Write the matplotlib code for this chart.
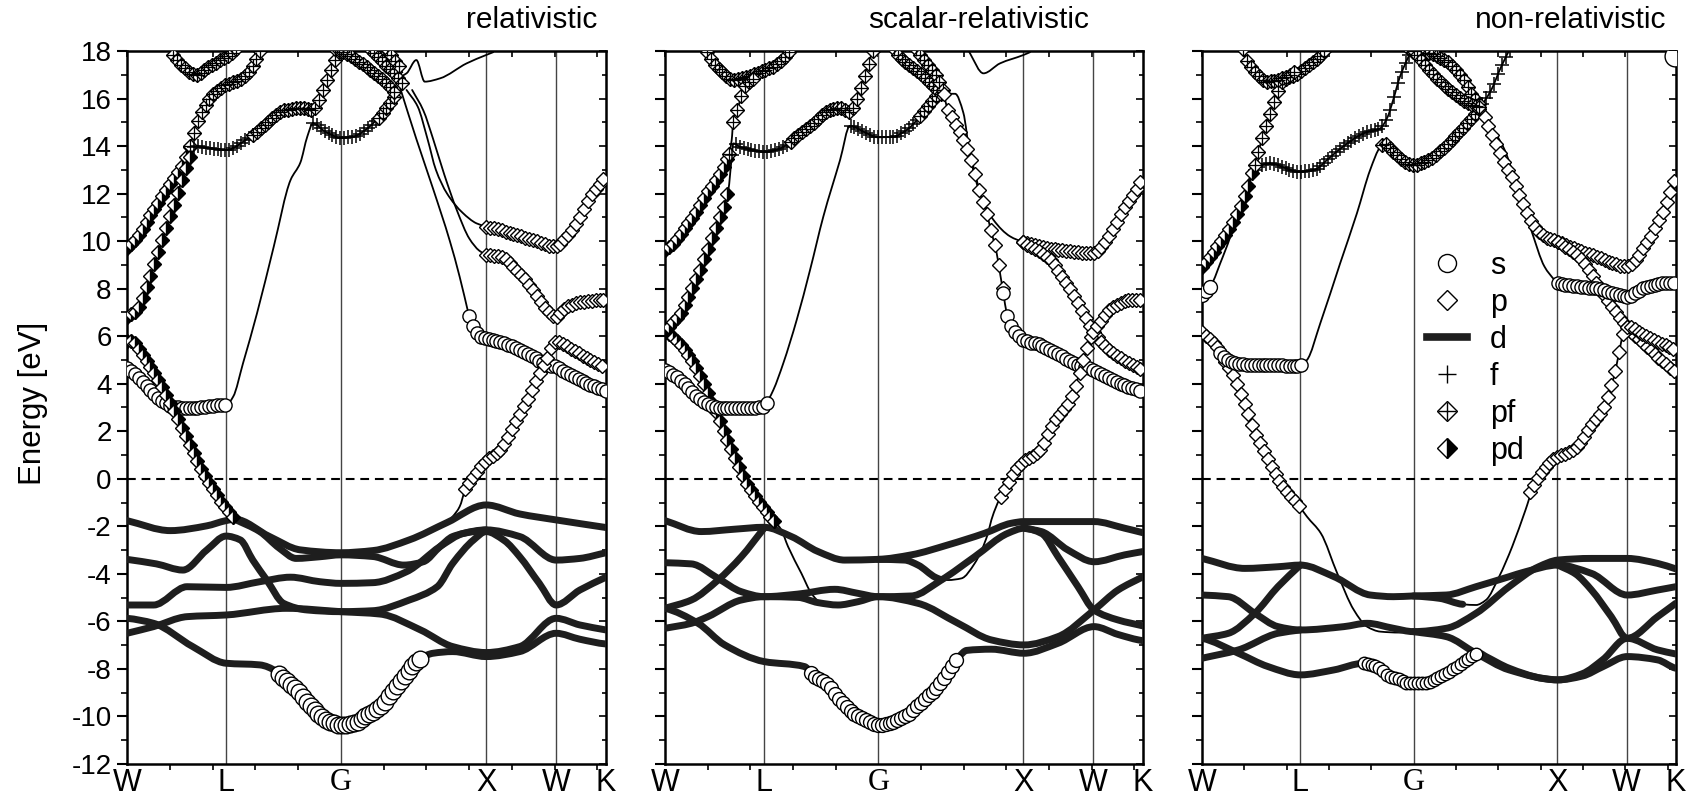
import numpy as np
import matplotlib.pyplot as plt
from matplotlib.lines import Line2D
from matplotlib.path import Path
from matplotlib.patches import PathPatch

plt.rcParams['font.family'] = ['Liberation Sans', 'DejaVu Sans']
plt.rcParams['axes.unicode_minus'] = False

# high-symmetry points along the path
kpts = [0.0, 0.708, 1.530, 2.569, 3.070, 3.427]
klabels = ['W', 'L', 'G', 'X', 'W', 'K']
yticks = list(range(-12, 19, 2))

# ---------------- relativistic ----------------
rel_a = [(0, -1.76), (0.31, -2.18), (0.57, -1.98), (0.708, -1.76), (0.77, -1.70), (1.02, -2.43), (1.24, -2.99),
         (1.53, -3.11), (1.76, -3.02), (2.02, -2.57), (2.29, -1.84), (2.569, -1.10), (2.81, -1.48), (3.07, -1.73),
         (3.427, -2.05)]
rel_b = [(0, -3.39), (0.21, -3.58), (0.40, -3.84), (0.57, -3.0), (0.708, -2.41), (0.81, -2.57), (0.90, -3.42),
         (1.0, -4.26), (1.12, -5.24), (1.29, -5.52), (1.53, -5.59), (1.76, -5.55), (2.02, -5.10), (2.22, -4.54),
         (2.33, -3.56), (2.48, -2.57), (2.569, -2.22), (2.70, -2.6), (2.81, -3.28), (2.95, -4.40), (3.07, -5.31),
         (3.24, -4.68), (3.427, -4.14)]
rel_c = [(0, -5.31), (0.19, -5.31), (0.43, -4.54), (0.708, -4.57), (0.95, -4.33), (1.17, -4.14), (1.38, -4.33),
         (1.53, -4.40), (1.76, -4.37), (2.0, -3.91), (2.24, -2.85), (2.41, -2.29), (2.569, -2.15), (2.81, -2.43),
         (3.07, -3.42), (3.24, -3.35), (3.427, -3.11)]
rel_f = [(0.77, -1.70), (0.95, -2.22), (1.09, -2.92), (1.21, -3.35), (1.38, -3.28), (1.53, -3.20), (1.76, -3.27),
         (1.98, -3.63), (2.12, -3.49), (2.24, -2.85), (2.33, -2.43), (2.48, -2.22), (2.569, -2.15)]
rel_d = [(0, -6.50), (0.19, -6.22), (0.43, -5.80), (0.708, -5.73), (1.14, -5.45), (1.53, -5.59), (1.81, -5.69),
         (2.10, -6.36), (2.33, -7.06), (2.569, -7.31), (2.81, -7.06), (3.07, -5.87), (3.24, -6.15), (3.427, -6.36)]
rel_e = [(0, -5.87), (0.19, -6.08), (0.47, -7.06), (0.708, -7.76), (0.95, -7.83), (1.07, -8.11), (1.095, -8.26),
         (1.166, -8.62), (1.238, -9.04), (1.297, -9.46), (1.381, -9.95), (1.452, -10.22), (1.529, -10.36),
         (1.619, -10.29), (1.715, -9.95), (1.81, -9.60), (1.906, -8.90), (2.0, -8.2), (2.096, -7.57), (2.19, -7.34),
         (2.33, -7.27), (2.569, -7.48), (2.81, -7.27), (3.07, -6.50), (3.24, -6.75), (3.427, -6.95)]
rel_sp = [(2.29, -1.84), (2.33, -1.59), (2.38, -1.17), (2.42, -0.41)]
rel_s = [(0, 4.65), (0.05, 4.44), (0.12, 4.02), (0.19, 3.6), (0.26, 3.25), (0.33, 3.04), (0.43, 2.97), (0.52, 3.0),
         (0.62, 3.08), (0.708, 3.1), (0.76, 3.46), (0.83, 4.86), (0.93, 6.96), (1.05, 9.77), (1.17, 12.57),
         (1.24, 13.3), (1.29, 14.4), (1.33, 14.95), (1.42, 14.6), (1.53, 14.35), (1.62, 14.4), (1.71, 14.7),
         (1.83, 15.4), (1.93, 16.2)]
rel_u1 = [(0.33, 17.85), (0.40, 17.34), (0.49, 17.0), (0.57, 17.27), (0.67, 17.62), (0.76, 17.97), (0.79, 18.2)]
rel_u2 = [(0, 9.70), (0.09, 10.3), (0.17, 11.1), (0.28, 12.15), (0.40, 13.27), (0.45, 14.0), (0.50, 14.96),
          (0.57, 15.8), (0.64, 16.3), (0.708, 16.57), (0.81, 16.8), (0.88, 17.2), (0.93, 17.69), (0.97, 18.2)]
rel_u3 = [(0, 6.82), (0.07, 7.1), (0.165, 8.5), (0.26, 10.19), (0.355, 11.87), (0.45, 13.55), (0.49, 14.0),
          (0.60, 13.9), (0.708, 13.83), (0.86, 14.3), (1.0, 14.96), (1.12, 15.5), (1.26, 15.6), (1.33, 15.5),
          (1.40, 16.3), (1.46, 17.2), (1.50, 17.8), (1.54, 18.2)]
rel_u4 = [(1.49, 18.1), (1.55, 17.95), (1.71, 17.34), (1.86, 16.64), (1.93, 16.15)]
rel_u5 = [(1.74, 18.1), (1.76, 17.97), (1.86, 17.34), (1.93, 16.92), (1.97, 16.6)]
rel_u6 = [(1.86, 18.1), (1.88, 17.9), (1.93, 17.48), (1.97, 17.1)]
rel_j = [(1.95, 16.9), (2.0, 17.06), (2.07, 17.62), (2.13, 16.71), (2.24, 16.85), (2.43, 17.48), (2.569, 17.83),
         (2.62, 17.95)]
rel_t1 = [(1.955, 16.43), (2.07, 14.3), (2.19, 12.2), (2.31, 10.0), (2.38, 8.5), (2.447, 6.85)]
rel_t2 = [(2.0, 16.36), (2.08, 15.66), (2.15, 14.3), (2.21, 13.0), (2.29, 12.0), (2.40, 11.2), (2.50, 10.75),
          (2.569, 10.61)]
rel_t3 = [(2.04, 16.36), (2.12, 15.5), (2.19, 14.3), (2.27, 12.8), (2.36, 11.3), (2.45, 10.1), (2.52, 9.6),
          (2.569, 9.42)]
rel_pd = [(0, 5.8), (0.05, 5.75), (0.1, 5.3), (0.2, 4.4), (0.3, 3.3), (0.38, 2.3), (0.45, 1.4), (0.53, 0.44),
          (0.62, -0.47), (0.70, -1.2), (0.77, -1.70)]
rel_xs = [(2.447, 6.85), (2.49, 6.26), (2.526, 5.98), (2.569, 5.91), (2.669, 5.77), (2.788, 5.49), (2.907, 5.14),
          (3.003, 4.79), (3.067, 4.72), (3.146, 4.44), (3.265, 4.09), (3.427, 3.69)]
rel_xp1 = [(2.569, 10.61), (2.669, 10.47), (2.788, 10.26), (2.907, 10.05), (3.067, 9.77), (3.146, 10.19),
           (3.217, 10.75), (3.313, 11.87), (3.427, 12.75)]
rel_xp2 = [(2.569, 9.42), (2.669, 9.35), (2.788, 8.79), (2.907, 7.94), (3.003, 7.1), (3.067, 6.82), (3.146, 7.24),
           (3.265, 7.45), (3.427, 7.55)]
rel_xp3 = [(2.42, -0.41), (2.478, 0.08), (2.569, 0.78), (2.669, 1.21), (2.74, 1.91), (2.80, 2.6), (2.87, 3.4),
           (2.93, 4.2), (3.0, 5.0), (3.067, 5.77), (3.193, 5.42), (3.313, 5.0), (3.427, 4.65)]

# ---------------- scalar-relativistic ----------------
sca_a = [(0, -1.76), (0.26, -2.22), (0.5, -2.12), (0.71, -2.04), (0.906, -2.43), (1.097, -3.06), (1.288, -3.42),
         (1.527, -3.39), (1.766, -3.20), (2.029, -2.78), (2.292, -2.29), (2.483, -1.87), (2.574, -1.80),
         (2.818, -1.80), (3.076, -1.80), (3.296, -2.08), (3.427, -2.27)]
sca_b = [(0, -3.53), (0.189, -3.58), (0.38, -4.19), (0.547, -4.75), (0.71, -4.96), (0.954, -4.85), (1.217, -4.65),
         (1.384, -4.82), (1.527, -4.96), (1.766, -4.93), (1.981, -4.26), (2.22, -3.28), (2.459, -2.29),
         (2.574, -2.08), (2.70, -2.3), (2.818, -3.28), (2.961, -4.54), (3.076, -5.52), (3.248, -5.94), (3.427, -6.19)]
sca_f = [(2.574, -2.08), (2.698, -2.22), (2.89, -3.0), (3.076, -3.49), (3.296, -3.2), (3.427, -3.06)]
sca_c = [(0, -5.45), (0.189, -5.10), (0.38, -4.26), (0.547, -3.28), (0.71, -2.08)]
sca_c2 = [(1.527, -3.39), (1.718, -3.42), (1.814, -3.63), (1.94, -4.15), (1.981, -4.24), (2.029, -4.26),
          (2.125, -4.19), (2.22, -3.56), (2.316, -2.29), (2.34, -1.73), (2.412, -0.75)]
sca_d = [(0, -6.29), (0.189, -6.08), (0.308, -5.80), (0.547, -5.10), (0.71, -4.96), (0.954, -4.99), (1.097, -5.21),
         (1.24, -5.31), (1.384, -5.17), (1.527, -4.96), (1.814, -5.24), (2.101, -6.08), (2.34, -6.78),
         (2.574, -6.99), (2.818, -6.64), (3.076, -5.52), (3.248, -4.68), (3.427, -4.12)]
sca_e = [(0, -5.45), (0.237, -6.08), (0.428, -6.99), (0.71, -7.69), (1.0, -7.90), (1.064, -8.26), (1.159, -8.62),
         (1.255, -9.31), (1.35, -9.87), (1.47, -10.22), (1.525, -10.36), (1.637, -10.22), (1.733, -9.95),
         (1.852, -9.31), (1.972, -8.62), (2.103, -7.52), (2.163, -7.22), (2.34, -7.17), (2.574, -7.34),
         (2.818, -6.92), (3.076, -6.22), (3.248, -6.55), (3.427, -6.81)]
sca_t = [(0.789, -1.80), (0.834, -2.15), (0.882, -2.85), (0.978, -3.98), (1.049, -4.82), (1.097, -5.15)]
sca_pd = [(0, 6.19), (0.06, 5.95), (0.13, 5.5), (0.2, 4.9), (0.27, 4.1), (0.35, 3.0), (0.40, 2.3), (0.45, 1.6),
          (0.51, 0.8), (0.56, 0.1), (0.63, -0.6), (0.705, -1.24), (0.789, -1.80)]
sca_s = [(0, 4.58), (0.06, 4.37), (0.131, 4.02), (0.203, 3.6), (0.299, 3.18), (0.394, 2.97), (0.538, 2.97),
         (0.707, 3.04), (0.74, 3.32), (0.777, 3.74), (0.848, 4.86), (0.944, 6.68), (1.04, 8.79), (1.135, 11.03),
         (1.255, 13.41), (1.326, 14.85), (1.446, 14.54), (1.525, 14.37), (1.637, 14.40), (1.733, 14.68),
         (1.828, 15.24), (1.90, 15.8), (1.948, 16.15)]
sca_u1 = [(0.30, 17.95), (0.323, 17.69), (0.394, 17.2), (0.49, 16.78), (0.586, 16.92), (0.681, 17.13),
          (0.777, 17.34), (0.872, 17.83), (0.9, 18.1)]
sca_u2 = [(0, 9.63), (0.06, 9.91), (0.131, 10.47), (0.203, 11.03), (0.299, 12.01), (0.394, 12.85), (0.454, 13.55),
          (0.478, 14.25), (0.49, 15.1), (0.526, 15.66), (0.55, 16.22), (0.586, 16.64), (0.65, 16.9)]
sca_u3 = [(0, 6.19), (0.048, 6.54), (0.108, 6.96), (0.179, 7.8), (0.251, 8.79), (0.323, 9.91), (0.394, 11.03),
          (0.454, 12.15), (0.478, 13.5), (0.49, 14.11), (0.538, 13.97), (0.633, 13.83), (0.707, 13.76),
          (0.825, 13.9), (0.944, 14.4), (1.064, 14.96), (1.183, 15.52), (1.255, 15.59), (1.326, 15.45),
          (1.398, 16.36), (1.446, 17.2), (1.482, 17.9), (1.5, 18.2)]
sca_u4 = [(1.64, 18.1), (1.661, 17.9), (1.733, 17.48), (1.828, 17.06), (1.924, 16.5), (1.972, 16.22), (2.0, 16.0)]
sca_u5 = [(1.80, 18.1), (1.804, 18.04), (1.876, 17.48), (1.948, 16.92), (1.996, 16.36), (2.02, 16.1)]
sca_px = [(2.0, 16.2), (2.02, 15.66), (2.067, 15.1), (2.115, 14.54), (2.163, 13.97), (2.211, 13.13), (2.259, 12.01),
          (2.307, 11.17), (2.33, 10.61), (2.378, 9.49), (2.402, 8.65), (2.426, 7.8), (2.45, 6.96), (2.474, 6.5),
          (2.521, 6.12), (2.569, 5.84), (2.689, 5.63), (2.809, 5.28), (2.928, 4.86), (3.071, 4.58), (3.166, 4.3),
          (3.286, 3.95), (3.427, 3.67)]
sca_t2 = [(2.0, 16.2), (2.08, 16.2), (2.139, 15.4), (2.187, 13.6), (2.259, 12.0), (2.354, 10.9), (2.474, 10.2),
          (2.569, 9.95)]
sca_xp1 = [(2.569, 9.95), (2.689, 9.77), (2.928, 9.56), (3.071, 9.49), (3.166, 10.05), (3.286, 11.31),
           (3.427, 12.64)]
sca_xp2 = [(2.569, 9.95), (2.737, 9.35), (2.881, 8.22), (3.0, 6.96), (3.071, 6.19), (3.214, 5.28), (3.427, 4.58)]
sca_xp3 = [(2.412, -0.75), (2.45, -0.33), (2.521, 0.44), (2.569, 0.72), (2.689, 1.21), (2.785, 2.33),
           (2.904, 3.32), (3.023, 5.42), (3.071, 6.19)]
sca_xp4 = [(3.071, 6.19), (3.214, 7.24), (3.334, 7.52), (3.427, 7.52)]
sca_j = [(2.16, 18.2), (2.187, 17.9), (2.283, 17.06), (2.402, 17.48), (2.569, 17.83), (2.617, 17.95)]

# ---------------- non-relativistic ----------------
non_a = [(0, -3.35), (0.31, -3.77), (0.549, -3.70), (0.711, -3.63), (0.955, -4.12), (1.217, -4.89), (1.384, -4.96),
         (1.527, -4.93), (1.766, -4.89), (1.981, -4.54), (2.22, -4.12), (2.339, -3.91), (2.573, -3.63),
         (2.816, -3.98), (3.074, -4.89), (3.294, -4.68), (3.425, -4.54)]
non_b = [(0, -6.71), (0.191, -6.50), (0.382, -5.66), (0.549, -4.54), (0.711, -3.63)]
non_c = [(0, -4.89), (0.191, -4.96), (0.382, -5.66), (0.549, -6.22), (0.711, -6.36), (1.026, -6.22), (1.193, -6.08),
         (1.384, -6.29), (1.527, -6.43), (1.766, -6.29), (1.981, -5.66), (2.22, -4.54), (2.434, -3.70),
         (2.573, -3.42), (2.816, -3.35), (3.074, -3.35), (3.294, -3.56), (3.425, -3.79)]
non_d = [(0, -7.55), (0.263, -7.20), (0.549, -6.50), (0.711, -6.36)]
non_e = [(0, -6.71), (0.263, -7.34), (0.477, -7.90), (0.711, -8.25), (0.955, -8.04), (1.169, -7.76), (1.265, -7.90),
         (1.36, -8.32), (1.432, -8.46), (1.48, -8.58), (1.527, -8.60), (1.623, -8.58), (1.671, -8.46),
         (1.718, -8.32), (1.79, -8.11), (1.862, -7.83), (1.933, -7.55), (2.005, -7.34), (2.053, -7.48),
         (2.22, -7.97), (2.458, -8.39), (2.573, -8.46), (2.75, -8.3), (2.9, -7.9), (3.074, -7.48), (3.294, -7.62),
         (3.425, -7.97)]
non_f = [(1.527, -6.43), (1.766, -6.64), (1.981, -7.34), (2.22, -8.04), (2.573, -8.46), (2.75, -8.2), (2.9, -7.6),
         (3.074, -6.71), (3.294, -7.20), (3.425, -7.37)]
non_g = [(2.573, -3.63), (2.70, -4.0), (2.816, -4.68), (2.959, -5.80), (3.074, -6.71), (3.294, -5.80),
         (3.425, -5.24)]
non_h = [(1.527, -4.93), (1.718, -5.03), (1.885, -5.28), (1.981, -5.31), (2.053, -5.10), (2.148, -4.12),
         (2.243, -2.85), (2.339, -1.31), (2.387, -0.54)]
non_t = [(0.71, -1.2), (0.76, -1.6), (0.859, -2.29), (0.978, -3.98), (1.098, -5.52), (1.193, -6.22),
         (1.289, -6.43), (1.43, -6.47), (1.527, -6.43)]
non_pd = [(0, 6.19), (0.06, 5.84), (0.108, 5.56), (0.17, 4.9), (0.229, 4.3), (0.277, 3.6), (0.325, 2.9),
          (0.38, 2.0), (0.434, 1.35), (0.542, 0.09), (0.614, -0.54), (0.71, -1.2)]
non_s = [(0, 6.19), (0.08, 5.7), (0.13, 5.3), (0.18, 5.0), (0.25, 4.86), (0.35, 4.8), (0.5, 4.79), (0.706, 4.75),
         (0.759, 5.0), (0.855, 6.54), (0.999, 9.07), (1.12, 11.17), (1.216, 13.0), (1.289, 13.97), (1.313, 14.1),
         (1.394, 13.7), (1.526, 13.2), (1.635, 13.41), (1.755, 13.97), (1.875, 14.68), (1.995, 15.52),
         (2.043, 15.9), (2.091, 16.36), (2.163, 17.34), (2.236, 18.2)]
non_f1 = [(0, 7.73), (0.072, 8.22), (0.132, 9.07), (0.205, 10.19), (0.277, 11.59), (0.349, 12.71), (0.397, 13.1),
          (0.49, 13.27), (0.64, 13.0), (0.706, 12.92), (0.81, 13.0), (0.93, 13.55), (1.05, 14.11), (1.17, 14.54),
          (1.289, 14.75), (1.34, 15.2), (1.38, 15.9), (1.43, 16.9), (1.48, 17.6), (1.53, 18.2)]
non_pd2 = [(0, 8.93), (0.084, 9.56), (0.205, 10.61), (0.325, 12.15), (0.397, 13.55), (0.446, 14.53),
           (0.494, 15.38), (0.542, 16.22), (0.59, 16.78), (0.66, 16.95), (0.759, 17.34), (0.879, 17.97), (0.9, 18.2)]
non_u1 = [(0.30, 18.1), (0.313, 17.76), (0.373, 17.2), (0.47, 16.71), (0.542, 16.78), (0.62, 16.95), (0.686, 17.2)]
non_u4 = [(1.50, 18.1), (1.526, 17.95), (1.635, 17.9), (1.755, 17.62), (1.875, 16.92), (1.947, 16.22),
          (2.019, 15.66)]
non_u5 = [(1.53, 18.0), (1.587, 17.62), (1.707, 16.78), (1.827, 16.22), (1.923, 15.8), (2.019, 15.6)]
non_px = [(2.043, 15.24), (2.115, 14.26), (2.188, 13.27), (2.26, 12.43), (2.332, 11.45), (2.404, 10.61),
          (2.476, 10.19), (2.572, 9.98), (2.73, 9.6), (2.854, 9.35), (2.957, 9.1), (3.071, 8.93), (3.215, 9.91),
          (3.336, 11.31), (3.427, 12.71)]
non_px2 = [(2.572, 9.98), (2.73, 9.3), (2.90, 7.8), (3.071, 6.4), (3.215, 5.56), (3.427, 4.44)]
non_px3 = [(2.372, -0.54), (2.469, 0.37), (2.565, 0.93), (2.637, 1.07), (2.734, 1.49), (2.806, 2.19),
           (2.902, 3.0), (2.974, 4.2), (3.071, 6.4), (3.215, 5.98), (3.427, 5.42)]
non_t2 = [(2.043, 15.24), (2.188, 13.84), (2.284, 12.15), (2.38, 10.47), (2.476, 8.93), (2.548, 8.37),
          (2.572, 8.22)]
non_xs = [(2.572, 8.22), (2.733, 8.08), (2.854, 8.01), (2.974, 7.8), (3.071, 7.66), (3.215, 8.08), (3.336, 8.22),
          (3.427, 8.22)]
non_k = [(3.38, 18.3), (3.42, 17.8)]

DK = 0.028
DS, CS, FS = 7, 9.5, 10       # diamond, circle, plus sizes


def arr(c):
    a = np.array(c, dtype=float)
    return a[:, 0], a[:, 1]


def slopes(k, e):
    # monotone cubic (Fritsch-Carlson) tangents so the drawn curve never overshoots the read points
    h = np.diff(k)
    d = np.diff(e) / h
    m = np.empty_like(e)
    m[0], m[-1] = d[0], d[-1]
    for i in range(1, len(e) - 1):
        if d[i - 1] * d[i] <= 0:
            m[i] = 0.0
        else:
            w1, w2 = 2 * h[i] + h[i - 1], h[i] + 2 * h[i - 1]
            m[i] = (w1 + w2) / (w1 / d[i - 1] + w2 / d[i])
    return m


def along(c, ks):
    k, e = arr(c)
    m = slopes(k, e)
    ks = np.clip(np.asarray(ks, dtype=float), k[0], k[-1])
    i = np.clip(np.searchsorted(k, ks) - 1, 0, len(k) - 2)
    h = k[i + 1] - k[i]
    t = (ks - k[i]) / h
    return ((2 * t ** 3 - 3 * t ** 2 + 1) * e[i] + (t ** 3 - 2 * t ** 2 + t) * h * m[i]
            + (-2 * t ** 3 + 3 * t ** 2) * e[i + 1] + (t ** 3 - t ** 2) * h * m[i + 1])


def curve_path(c, k0=None, k1=None):
    k, e = arr(c)
    if k0 is not None:
        k = np.concatenate([[k0], k[(k > k0) & (k < k1)], [k1]])
        e = along(c, k)
        eps = 1e-4
        m = (along(c, k + eps) - along(c, k - eps)) / (2 * eps)
    else:
        m = slopes(k, e)
    verts, codes = [(k[0], e[0])], [Path.MOVETO]
    for i in range(len(k) - 1):
        h = k[i + 1] - k[i]
        verts += [(k[i] + h / 3, e[i] + m[i] * h / 3), (k[i + 1] - h / 3, e[i + 1] - m[i + 1] * h / 3),
                  (k[i + 1], e[i + 1])]
        codes += [Path.CURVE4] * 3
    return Path(verts, codes)


def draw_lines(ax, specs):
    for c, k0, k1, style in specs:
        if style == 'thick':
            kw = dict(edgecolor='#1e1e1e', lw=5.0, zorder=3)
        else:
            kw = dict(edgecolor='black', lw=1.3, zorder=2)
        ax.add_patch(PathPatch(curve_path(c, k0, k1), facecolor='none', capstyle='round',
                               joinstyle='round', **kw))


def draw_marks(ax, specs):
    for c, k0, k1, kind, ms in specs:
        k, e = arr(c)
        if k0 is None:
            k0, k1 = k[0], k[-1]
        ks = np.arange(k0, k1 + 1e-6, DK)
        es = along(c, ks)
        if kind == 's':
            ax.plot(ks, es, 'o', ms=ms, mfc='white', mec='black', mew=1.0, zorder=5)
        elif kind == 'p':
            ax.plot(ks, es, 'D', ms=ms, mfc='white', mec='black', mew=1.0, zorder=5)
        elif kind == 'f':
            ax.plot(ks, es, '+', ms=ms, mec='black', mew=1.1, zorder=5)
        elif kind == 'pf':
            ax.plot(ks, es, 'D', ms=ms, mfc='white', mec='black', mew=1.0, zorder=5)
            ax.plot(ks, es, '+', ms=ms * 1.4, mec='black', mew=0.9, zorder=5)
        elif kind == 'pd':
            ax.plot(ks, es, 'D', ms=ms, fillstyle='right', mfc='black', markerfacecoloralt='white',
                    mec='black', mew=1.0, zorder=5)


panels = [
    dict(title='relativistic', tx=0.981,
         lines=[(rel_a, None, None, 'thick'), (rel_b, None, None, 'thick'), (rel_c, None, None, 'thick'),
                (rel_f, None, None, 'thick'), (rel_d, None, None, 'thick'),
                (rel_e, 0, 1.09, 'thick'), (rel_e, 1.09, 2.10, 'thin'), (rel_e, 2.10, 3.427, 'thick'),
                (rel_sp, None, None, 'thin'), (rel_s, None, None, 'thin'), (rel_u1, None, None, 'thin'),
                (rel_u2, None, None, 'thin'), (rel_u3, None, None, 'thin'), (rel_u4, None, None, 'thin'),
                (rel_u5, None, None, 'thin'), (rel_u6, None, None, 'thin'), (rel_j, None, None, 'thin'),
                (rel_t1, None, None, 'thin'), (rel_t2, None, None, 'thin'), (rel_t3, None, None, 'thin'),
                (rel_pd, None, None, 'thin'), (rel_xs, None, None, 'thin'), (rel_xp1, None, None, 'thin'),
                (rel_xp2, None, None, 'thin'), (rel_xp3, None, None, 'thin')],
         marks=[(rel_e, 1.09, 2.10, 's', 12), (rel_s, 0, 0.71, 's', CS), (rel_s, 1.33, 1.80, 'f', FS),
                (rel_s, 1.80, 1.93, 'pf', DS), (rel_u1, None, None, 'pf', DS),
                (rel_u2, 0, 0.45, 'pd', DS), (rel_u2, 0.45, 0.97, 'pf', DS),
                (rel_u3, 0, 0.45, 'pd', DS), (rel_u3, 0.48, 0.90, 'f', FS), (rel_u3, 0.90, 1.54, 'pf', DS),
                (rel_u4, None, None, 'pf', DS), (rel_u5, None, None, 'pf', DS), (rel_u6, None, None, 'pf', DS),
                (rel_pd, None, None, 'pd', DS), (rel_xs, None, None, 's', CS),
                (rel_xp1, None, None, 'p', DS), (rel_xp2, None, None, 'p', DS), (rel_xp3, None, None, 'p', DS)]),
    dict(title='scalar-relativistic', tx=0.887,
         lines=[(sca_a, None, None, 'thick'), (sca_b, None, None, 'thick'), (sca_f, None, None, 'thick'),
                (sca_c, None, None, 'thick'), (sca_c2, 1.527, 1.981, 'thick'), (sca_c2, 1.981, 2.412, 'thin'),
                (sca_d, None, None, 'thick'),
                (sca_e, 0, 1.05, 'thick'), (sca_e, 1.05, 2.11, 'thin'), (sca_e, 2.11, 3.427, 'thick'),
                (sca_t, None, None, 'thin'), (sca_pd, None, None, 'thin'), (sca_s, None, None, 'thin'),
                (sca_u1, None, None, 'thin'), (sca_u2, None, None, 'thin'), (sca_u3, None, None, 'thin'),
                (sca_u4, None, None, 'thin'), (sca_u5, None, None, 'thin'), (sca_px, None, None, 'thin'),
                (sca_t2, None, None, 'thin'), (sca_xp1, None, None, 'thin'), (sca_xp2, None, None, 'thin'),
                (sca_xp3, None, None, 'thin'), (sca_xp4, None, None, 'thin'), (sca_j, None, None, 'thin')],
         marks=[(sca_e, 1.05, 2.11, 's', 10), (sca_pd, None, None, 'pd', DS),
                (sca_s, 0, 0.74, 's', CS), (sca_s, 1.33, 1.83, 'f', FS), (sca_s, 1.83, 1.948, 'pf', DS),
                (sca_u1, None, None, 'pf', DS), (sca_u2, 0, 0.46, 'pd', DS), (sca_u2, 0.46, 0.65, 'pf', DS),
                (sca_u3, 0, 0.46, 'pd', DS), (sca_u3, 0.48, 0.9, 'f', FS), (sca_u3, 0.9, 1.5, 'pf', DS),
                (sca_u4, None, None, 'pf', DS), (sca_u5, None, None, 'pf', DS),
                (sca_px, 2.0, 2.42, 'p', DS), (sca_px, 2.426, 3.427, 's', CS),
                (sca_xp1, None, None, 'p', DS), (sca_xp2, None, None, 'p', DS), (sca_xp3, None, None, 'p', DS),
                (sca_xp4, None, None, 'p', DS)]),
    dict(title='non-relativistic', tx=0.979,
         lines=[(non_a, None, None, 'thick'), (non_b, None, None, 'thick'), (non_c, None, None, 'thick'),
                (non_d, None, None, 'thick'),
                (non_e, 0, 1.17, 'thick'), (non_e, 1.17, 2.005, 'thin'), (non_e, 2.005, 3.425, 'thick'),
                (non_f, None, None, 'thick'), (non_g, None, None, 'thick'),
                (non_h, 1.527, 1.885, 'thick'), (non_h, 1.885, 2.387, 'thin'),
                (non_t, None, None, 'thin'), (non_pd, None, None, 'thin'), (non_s, None, None, 'thin'),
                (non_f1, None, None, 'thin'), (non_pd2, None, None, 'thin'), (non_u1, None, None, 'thin'),
                (non_u4, None, None, 'thin'), (non_u5, None, None, 'thin'), (non_px, None, None, 'thin'),
                (non_px2, None, None, 'thin'), (non_px3, None, None, 'thin'), (non_t2, None, None, 'thin'),
                (non_xs, None, None, 'thin'), (non_k, None, None, 'thin')],
         marks=[(non_e, 1.17, 2.005, 's', 9), (non_pd, None, None, 'p', DS),
                (non_s, 0.13, 0.72, 's', CS), (non_s, 1.30, 2.0, 'pf', DS), (non_s, 2.0, 2.236, 'f', FS),
                (non_f1, 0, 0.08, 's', 10), (non_f1, 0.38, 1.53, 'f', FS),
                (non_pd2, 0, 0.38, 'pd', DS), (non_pd2, 0.38, 0.9, 'pf', DS), (non_u1, None, None, 'pf', DS),
                (non_u4, None, None, 'pf', DS), (non_u5, None, None, 'pf', DS),
                (non_px, None, None, 'p', DS), (non_px2, None, None, 'p', DS), (non_px3, None, None, 'p', DS),
                (non_xs, None, None, 's', CS), (non_k, 3.42, 3.42, 's', 15)]),
]

W, H = 1707, 811
lefts = [127, 665, 1202]
widths = [479, 478, 474]
top, bottom = 51, 764

fig = plt.figure(figsize=(W / 100, H / 100), dpi=100)
minor_x = np.arange(0, 3.43, kpts[2] / 5)

for i, p in enumerate(panels):
    ax = fig.add_axes([lefts[i] / W, (H - bottom) / H, widths[i] / W, (bottom - top) / H])
    ax.set_xlim(0, kpts[-1])
    ax.set_ylim(-12, 18)
    for k in kpts[1:-1]:
        ax.axvline(k, color='#444444', lw=1.0, zorder=1)
    ax.axhline(0, color='black', lw=1.5, ls=(0, (4.2, 2.8)), zorder=1)
    draw_lines(ax, p['lines'])
    draw_marks(ax, p['marks'])

    for s in ax.spines.values():
        s.set_linewidth(1.8)
    ax.set_xticks(kpts)
    ax.set_xticklabels(klabels, fontsize=22)
    ax.get_xticklabels()[2].set_fontfamily('Liberation Serif')
    ax.set_xticks(minor_x, minor=True)
    ax.tick_params(axis='x', which='major', length=0, pad=3)
    ax.tick_params(axis='x', which='minor', direction='out', length=4, width=1.2)
    ax.set_yticks(yticks)
    ax.set_yticks(range(-12, 19), minor=True)
    ax.tick_params(axis='y', which='major', direction='out', length=7, width=1.5, labelsize=20, pad=4)
    ax.tick_params(axis='y', which='minor', direction='out', length=4, width=1.2)
    if i == 0:
        ax.set_yticklabels([str(v) for v in yticks])
    else:
        ax.set_yticklabels([])

    sy = ax.secondary_yaxis('right')
    sy.set_yticks(yticks)
    sy.set_yticks(range(-12, 19), minor=True)
    sy.tick_params(axis='y', which='both', direction='in', labelright=False, width=1.2)
    sy.tick_params(axis='y', which='major', length=5)
    sy.tick_params(axis='y', which='minor', length=3)
    sx = ax.secondary_xaxis('top')
    sx.set_xticks(minor_x)
    sx.tick_params(axis='x', direction='in', length=4, width=1.2, labeltop=False)

    ax.text(p['tx'], 1.043, p['title'], transform=ax.transAxes, ha='right', va='center', fontsize=21.5)

    if i == 2:
        h_s = Line2D([], [], ls='none', marker='o', ms=13, mfc='white', mec='black', mew=1)
        h_p = Line2D([], [], ls='none', marker='D', ms=10, mfc='white', mec='black', mew=1)
        h_d = Line2D([], [], color='#1e1e1e', lw=5.5)
        h_f = Line2D([], [], ls='none', marker='+', ms=13, mec='black', mew=1)
        h_pd = Line2D([], [], ls='none', marker='D', ms=10, fillstyle='right', mfc='black',
                      markerfacecoloralt='white', mec='black', mew=1)
        ax.legend([h_s, h_p, h_d, h_f, (h_p, h_f), h_pd], ['s', 'p', 'd', 'f', 'pf', 'pd'],
                  loc='upper left', bbox_to_anchor=(0.475, 0.72), frameon=False, fontsize=22,
                  handlelength=1.3, handletextpad=0.75, labelspacing=0.23, borderpad=0, borderaxespad=0)

fig.text(33 / W, 1 - 403 / H, 'Energy [eV]', rotation=90, ha='center', va='center', fontsize=22.5)

fig.savefig('out.png', dpi=100)
